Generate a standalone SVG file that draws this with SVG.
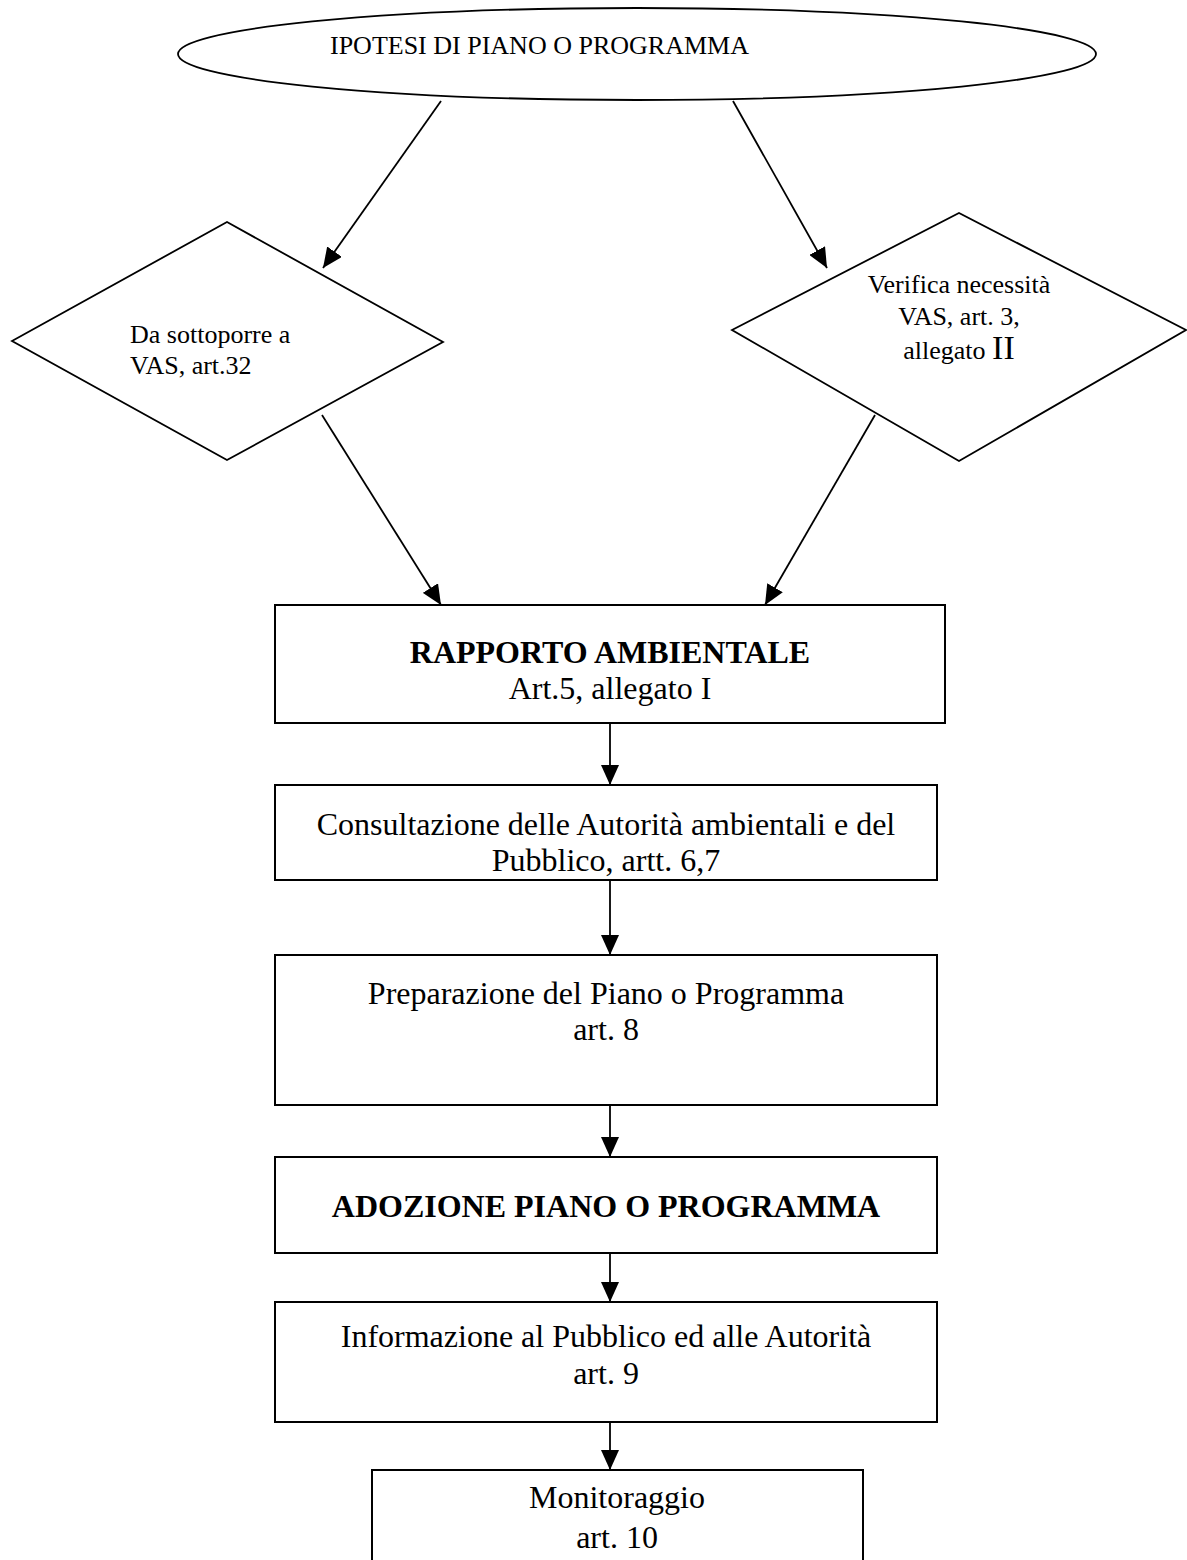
<svg xmlns="http://www.w3.org/2000/svg" width="1187" height="1560" viewBox="0 0 1187 1560">
  <style>
    .shape { fill: #fff; stroke: #000; stroke-width: 1.8; }
    .box { fill: #fff; stroke: #000; stroke-width: 2; }
    .link { fill: none; stroke: #000; stroke-width: 1.8; }
    .t { font-family: "Liberation Serif", "Times New Roman", serif; fill: #000; }
    .sm { font-size: 26px; }
    .lg { font-size: 32px; }
    .b { font-weight: bold; }
    .c { text-anchor: middle; }
  </style>
  <defs>
    <marker id="arrow" markerUnits="userSpaceOnUse" markerWidth="20" markerHeight="18" refX="20" refY="9" orient="auto">
      <path d="M0,0 L20,9 L0,18 z" fill="#000"/>
    </marker>
  </defs>

  <rect width="1187" height="1560" fill="#fff"/>

  <!-- connectors -->
  <g id="connectors" class="link" marker-end="url(#arrow)">
    <line x1="441" y1="101" x2="323" y2="268"/>
    <line x1="733" y1="101" x2="827" y2="268"/>
    <line x1="322" y1="415" x2="441" y2="605"/>
    <line x1="875" y1="415" x2="765" y2="605"/>
    <line x1="610" y1="723" x2="610" y2="785"/>
    <line x1="610" y1="880" x2="610" y2="955"/>
    <line x1="610" y1="1105" x2="610" y2="1157"/>
    <line x1="610" y1="1253" x2="610" y2="1302"/>
    <line x1="610" y1="1422" x2="610" y2="1470"/>
  </g>

  <!-- start node -->
  <g id="ipotesi">
    <ellipse class="shape" cx="637" cy="54" rx="459" ry="46"/>
    <text class="t sm" x="330" y="54">IPOTESI DI PIANO O PROGRAMMA</text>
  </g>

  <!-- decision nodes -->
  <g id="da-sottoporre">
    <polygon class="shape" points="12,341 227,222 443,342 227,460"/>
    <text class="t sm" x="130" y="343">Da sottoporre a</text>
    <text class="t sm" x="130" y="374">VAS, art.32</text>
  </g>

  <g id="verifica">
    <polygon class="shape" points="732,330 959,213 1186,330 959,461"/>
    <text class="t sm c" x="959" y="293">Verifica necessità</text>
    <text class="t sm c" x="959" y="325">VAS, art. 3,</text>
    <text class="t sm c" x="959" y="359">allegato <tspan font-size="34">II</tspan></text>
  </g>

  <!-- process steps -->
  <g id="rapporto">
    <rect class="box" x="275" y="605" width="670" height="118"/>
    <text class="t lg b c" x="610" y="663">RAPPORTO AMBIENTALE</text>
    <text class="t lg c" x="610" y="699">Art.5, allegato I</text>
  </g>

  <g id="consultazione">
    <rect class="box" x="275" y="785" width="662" height="95"/>
    <text class="t lg c" x="606" y="835">Consultazione delle Autorità ambientali e del</text>
    <text class="t lg c" x="606" y="871">Pubblico, artt. 6,7</text>
  </g>

  <g id="preparazione">
    <rect class="box" x="275" y="955" width="662" height="150"/>
    <text class="t lg c" x="606" y="1004">Preparazione del Piano o Programma</text>
    <text class="t lg c" x="606" y="1040">art. 8</text>
  </g>

  <g id="adozione">
    <rect class="box" x="275" y="1157" width="662" height="96"/>
    <text class="t lg b c" x="606" y="1217">ADOZIONE PIANO O PROGRAMMA</text>
  </g>

  <g id="informazione">
    <rect class="box" x="275" y="1302" width="662" height="120"/>
    <text class="t lg c" x="606" y="1347">Informazione al Pubblico ed alle Autorità</text>
    <text class="t lg c" x="606" y="1384">art. 9</text>
  </g>

  <g id="monitoraggio">
    <rect class="box" x="372" y="1470" width="491" height="110"/>
    <text class="t lg c" x="617" y="1508">Monitoraggio</text>
    <text class="t lg c" x="617" y="1548">art. 10</text>
  </g>
</svg>
